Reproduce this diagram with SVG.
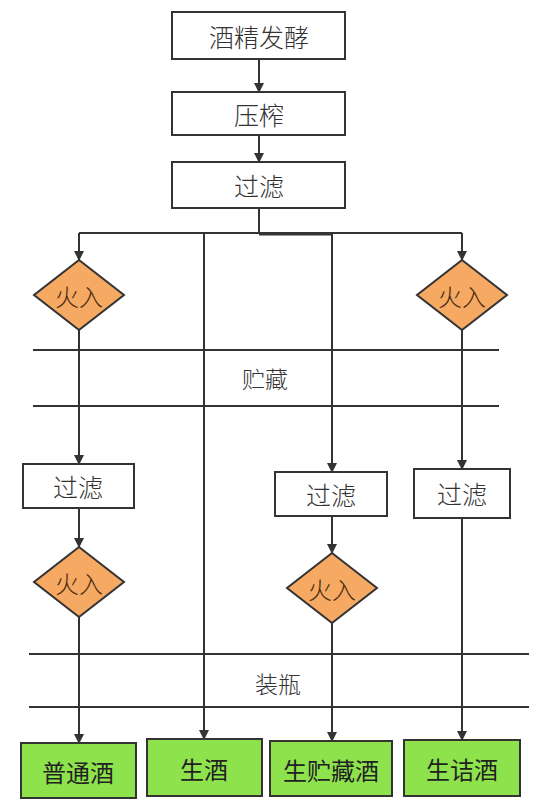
<svg xmlns="http://www.w3.org/2000/svg" width="542" height="804" viewBox="0 0 542 804">
<defs>
<marker id="arr" markerWidth="10" markerHeight="10" refX="9" refY="5" orient="auto" markerUnits="userSpaceOnUse">
<path d="M0,0 L10,5 L0,10 Z" fill="#333"/>
</marker>
<style>
.box{fill:#fff;stroke:#333;stroke-width:2}
.green{fill:#8EE24C;stroke:#333;stroke-width:2}
.dia{fill:#F6A963;stroke:#333;stroke-width:2}
.t{font-family:"Noto Sans CJK SC","Noto Sans",sans-serif;font-weight:300;font-size:25px;fill:#333;text-anchor:middle;dominant-baseline:central}
.td{font-family:"Noto Sans CJK SC","Noto Sans",sans-serif;font-weight:300;font-size:24px;fill:#4a2c12;text-anchor:middle;dominant-baseline:central}
.tg{font-family:"Noto Sans CJK SC","Noto Sans",sans-serif;font-weight:400;font-size:24px;fill:#222;text-anchor:middle;dominant-baseline:central}
.ln{stroke:#333;stroke-width:2;fill:none}
.c{stroke:#333;stroke-width:2;fill:none}
</style>
</defs>
<rect width="542" height="804" fill="#fff"/>

<g id="lanes">
<line class="ln" x1="33" y1="350" x2="499" y2="350"/>
<line class="ln" x1="33" y1="406" x2="499" y2="406"/>
<text class="t" x="265" y="378" style="font-size:23px">贮藏</text>
<line class="ln" x1="29" y1="654" x2="529" y2="654"/>
<line class="ln" x1="29" y1="707" x2="529" y2="707"/>
<text class="t" x="278" y="683" style="font-size:23px">装瓶</text>
</g>

<g id="connectors">
<line class="c" x1="259" y1="59" x2="259" y2="92" marker-end="url(#arr)"/>
<line class="c" x1="259" y1="135" x2="259" y2="162" marker-end="url(#arr)"/>
<path class="c" d="M259,208 V234"/>
<path class="c" d="M79,233 H462"/>
<path class="c" d="M79,233 V260" marker-end="url(#arr)"/>
<path class="c" d="M462,233 V260" marker-end="url(#arr)"/>
<path class="c" d="M204,233 V739" marker-end="url(#arr)"/>
<path class="c" d="M259,234.5 H332 V472" marker-end="url(#arr)"/>
<path class="c" d="M79,330 V464" marker-end="url(#arr)"/>
<path class="c" d="M462,330 V469" marker-end="url(#arr)"/>
<path class="c" d="M79,508 V547" marker-end="url(#arr)"/>
<path class="c" d="M332,516 V553" marker-end="url(#arr)"/>
<path class="c" d="M79,617 V743" marker-end="url(#arr)"/>
<path class="c" d="M332,623 V741" marker-end="url(#arr)"/>
<path class="c" d="M462,518 V740" marker-end="url(#arr)"/>
</g>

<g id="n1"><rect class="box" x="172" y="12" width="173" height="47"/><text class="t" x="259" y="36">酒精发酵</text></g>
<g id="n2"><rect class="box" x="172" y="92" width="173" height="43"/><text class="t" x="259" y="114">压榨</text></g>
<g id="n3"><rect class="box" x="172" y="162" width="173" height="46"/><text class="t" x="259" y="185">过滤</text></g>

<g id="d1"><polygon class="dia" points="79,260 124,295 79,330 34,295"/><text class="td" x="79" y="295">火入</text></g>
<g id="d2"><polygon class="dia" points="462,260 507,295 462,330 417,295"/><text class="td" x="462" y="295">火入</text></g>

<g id="f1"><rect class="box" x="23" y="464" width="111" height="44"/><text class="t" x="78" y="486">过滤</text></g>
<g id="f2"><rect class="box" x="275" y="472" width="112" height="44"/><text class="t" x="331" y="494">过滤</text></g>
<g id="f3"><rect class="box" x="414" y="469" width="96" height="49"/><text class="t" x="462" y="493">过滤</text></g>

<g id="d3"><polygon class="dia" points="79,547 124,582 79,617 34,582"/><text class="td" x="79" y="582">火入</text></g>
<g id="d4"><polygon class="dia" points="332,553 377,588 332,623 287,588"/><text class="td" x="332" y="588">火入</text></g>

<g id="p1"><rect class="green" x="21" y="743" width="115" height="55"/><text class="tg" x="78" y="771">普通酒</text></g>
<g id="p2"><rect class="green" x="147" y="739" width="115" height="57"/><text class="tg" x="204" y="768">生酒</text></g>
<g id="p3"><rect class="green" x="270" y="741" width="122" height="55"/><text class="tg" x="331" y="769">生贮藏酒</text></g>
<g id="p4"><rect class="green" x="404" y="740" width="116" height="56"/><text class="tg" x="462" y="768">生诘酒</text></g>
</svg>
